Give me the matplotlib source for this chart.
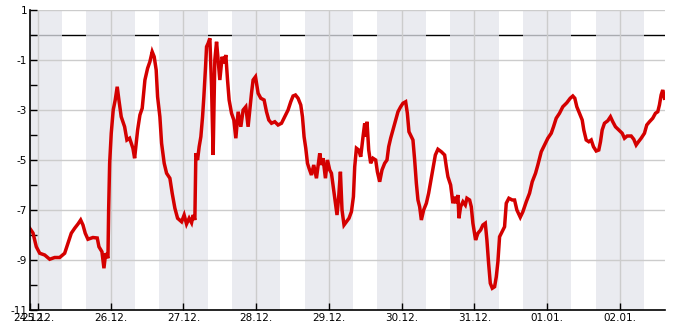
import numpy as np
import matplotlib
matplotlib.use("Agg")
import matplotlib.pyplot as plt

# hours since 25.12. 00:00 and temperature (°C)
hours = [-2.74, -1.65, -0.56, 0.56, 2.21, 3.86, 5.51, 7.15, 8.80, 9.89, 10.98, 12.10,
         13.19, 14.08, 14.84, 15.59, 16.48, 18.13, 19.55, 20.11, 21.10, 21.76, 22.32,
         23.08, 23.31, 23.64, 24.17, 24.82, 25.48, 26.14, 26.70, 27.46, 28.58, 29.34,
         30.23, 31.32, 31.88, 32.87, 33.63, 34.39, 35.28, 36.17, 36.92, 37.68, 38.34,
         39.00, 39.46, 40.22, 40.78, 41.64, 42.43, 43.52, 44.28, 45.17, 46.06, 47.38,
         48.23, 49.02, 49.88, 50.67, 51.20, 51.76, 52.09, 52.65, 53.18, 53.74, 54.30,
         54.73, 55.29, 55.62, 56.15, 56.71, 57.27, 57.79, 58.35, 58.92, 59.44, 60.00,
         60.76, 61.42, 61.98, 62.54, 63.07, 63.86, 64.62, 65.28, 66.04, 66.93, 67.69,
         68.57, 69.33, 69.89, 70.45, 70.98, 71.77, 72.10, 72.63, 73.52, 74.61, 75.40,
         76.16, 77.05, 78.14, 79.22, 80.35, 81.43, 82.52, 83.41, 84.17, 84.96, 85.82,
         86.71, 87.27, 87.80, 88.36, 88.92, 89.44, 90.23, 90.99, 91.88, 92.97, 93.53,
         94.06, 94.85, 95.51, 96.26, 96.83, 97.58, 98.24, 98.67, 99.23, 99.79, 100.32,
         100.98, 101.77, 102.63, 103.42, 104.08, 104.51, 105.07, 105.83, 106.49, 107.25,
         107.81, 108.14, 108.57, 109.13, 109.78, 110.54, 111.43, 111.99, 112.75, 113.51,
         114.40, 115.16, 115.72, 116.37, 117.13, 118.02, 118.79, 119.67, 120.43, 121.32,
         121.88, 122.41, 123.20, 123.73, 124.29, 124.85, 125.38, 125.94, 126.50, 127.26,
         128.15, 128.90, 129.56, 130.32, 131.12, 131.97, 133.09, 134.18, 134.74, 135.27,
         136.16, 136.92, 137.48, 138.04, 138.57, 138.90, 139.46, 140.22, 141.01, 141.54,
         142.42, 142.98, 143.51, 144.40, 145.16, 146.05, 146.81, 147.60, 148.13, 148.69,
         149.25, 149.91, 150.67, 151.23, 151.76, 152.31, 153.96, 154.52, 155.38, 156.50,
         157.26, 158.02, 159.14, 160.00, 161.12, 162.20, 163.09, 164.18, 164.94, 166.06,
         167.15, 168.24, 169.36, 170.11, 171.00, 172.09, 173.18, 174.50, 175.62, 176.48,
         177.14, 177.80, 178.68, 179.58, 180.11, 180.90, 181.76, 182.55, 183.30, 184.20,
         185.05, 185.61, 186.17, 186.93, 188.02, 188.90, 189.67, 190.55, 191.65, 192.77,
         193.53, 194.42, 195.74, 196.59, 197.38, 198.14, 199.03, 200.12, 200.88, 201.77,
         202.85, 203.75, 204.51, 205.06, 205.62, 206.15, 206.71]
temp = [-7.73, -7.92, -8.47, -8.73, -8.80, -8.97, -8.90, -8.90, -8.73, -8.33, -7.93, -7.73,
        -7.56, -7.40, -7.60, -7.93, -8.17, -8.10, -8.12, -8.47, -8.67, -9.33, -8.73,
        -8.93, -7.00, -5.13, -3.93, -3.00, -2.60, -2.07, -2.60, -3.27, -3.67, -4.20,
        -4.13, -4.53, -4.93, -3.80, -3.20, -2.93, -1.80, -1.33, -1.07, -0.67, -0.87,
        -1.40, -2.47, -3.27, -4.33, -5.13, -5.53, -5.73, -6.33, -6.93, -7.33, -7.47,
        -7.20, -7.56, -7.33, -7.51, -7.20, -7.40, -4.73, -5.00, -4.47, -4.07, -3.27,
        -2.47, -1.27, -0.47, -0.33, -0.13, -2.07, -4.80, -1.00, -0.27, -1.00, -1.80,
        -0.87, -1.13, -0.80, -1.80, -2.60, -3.13, -3.40, -4.13, -3.07, -3.67, -3.00,
        -2.87, -3.67, -3.00, -2.33, -1.80, -1.67, -1.93, -2.33, -2.53, -2.60, -3.07,
        -3.40, -3.53, -3.47, -3.60, -3.53, -3.27, -3.00, -2.67, -2.44, -2.40, -2.53,
        -2.80, -3.27, -4.07, -4.53, -5.13, -5.33, -5.60, -5.20, -5.73, -4.73, -5.20,
        -4.93, -5.73, -5.00, -5.40, -5.53, -6.20, -6.80, -7.20, -6.47, -5.47, -7.00,
        -7.60, -7.47, -7.33, -7.07, -6.47, -5.27, -4.53, -4.60, -4.87, -4.07,
        -3.53, -4.07, -3.47, -4.60, -5.13, -4.93, -5.00, -5.47, -5.87, -5.40,
        -5.13, -5.00, -4.47, -4.13, -3.80, -3.40, -3.07, -2.87, -2.73, -2.67,
        -3.13, -3.87, -4.07, -4.20, -5.00, -5.93, -6.60, -6.87, -7.40, -7.00,
        -6.73, -6.33, -5.87, -5.33, -4.80, -4.57, -4.67, -4.80, -5.27, -5.67,
        -6.00, -6.73, -6.47, -6.73, -6.40, -7.33, -6.87, -6.67, -6.80, -6.53,
        -6.60, -6.87, -7.53, -8.20, -7.93, -7.80, -7.60, -7.53, -8.20, -9.13,
        -9.93, -10.13, -10.07, -9.67, -9.07, -8.07, -7.67, -6.73, -6.53, -6.60,
        -6.60, -7.00, -7.29, -7.07, -6.67, -6.33, -5.87, -5.53, -5.20, -4.67,
        -4.40, -4.13, -3.93, -3.67, -3.33, -3.13, -2.87, -2.71, -2.53, -2.44,
        -2.53, -2.87, -3.13, -3.40, -3.80, -4.20, -4.27, -4.20, -4.47, -4.64,
        -4.60, -4.27, -3.80, -3.53, -3.43, -3.27, -3.47, -3.67, -3.80, -3.93,
        -4.13, -4.04, -4.04, -4.17, -4.40, -4.27, -4.13, -3.93, -3.60, -3.47,
        -3.33, -3.13, -3.07, -2.80, -2.40, -2.20, -2.53]
day_labels = ["24.12.", "25.12.", "26.12.", "27.12.", "28.12.", "29.12.",
              "30.12.", "31.12.", "01.01.", "02.01."]

x0, x1 = -2.64, 206.9
night_from, night_to = 16.0, 32.0   # hours of day, shaded (dark) period

fig = plt.figure(figsize=(6.85, 3.3), dpi=100)
ax = fig.add_axes([30 / 685, 20 / 330, 635 / 685, 300 / 330])

ax.axhline(0, color="black", lw=1.0, zorder=0.5)
for d in range(-1, 9):
    ax.axvspan(d * 24 + night_from, d * 24 + night_to, color="#e3e5ec", alpha=0.75,
               lw=0, zorder=1)

ax.plot(hours, temp, "-", color="#d40000", lw=2.5, zorder=3, solid_joinstyle="miter")

ax.set_xlim(x0, x1)
ax.set_ylim(-11, 1)
ax.set_xticks([x0] + [24 * k for k in range(9)])
ax.set_xticklabels(day_labels, fontsize=7.5)
ax.set_yticks(np.arange(-11, 2, 2))
ax.set_yticks(np.arange(-10, 1, 2), minor=True)
ax.set_yticklabels([str(v) for v in range(-11, 2, 2)], fontsize=7.5)
ax.tick_params(direction="in", length=5, width=1, pad=2)
ax.tick_params(which="minor", direction="in", length=5, width=1)
ax.grid(True, color="#cccccc", lw=1, zorder=2)
ax.set_axisbelow(False)
for gl in ax.get_xgridlines() + ax.get_ygridlines():
    gl.set_zorder(2)
ax.get_xgridlines()[0].set_visible(False)
ax.spines["top"].set_visible(False)
ax.spines["right"].set_visible(False)
for s in ("left", "bottom"):
    ax.spines[s].set_linewidth(1.2)
    ax.spines[s].set_zorder(4)

fig.savefig("out.png", dpi=100)
